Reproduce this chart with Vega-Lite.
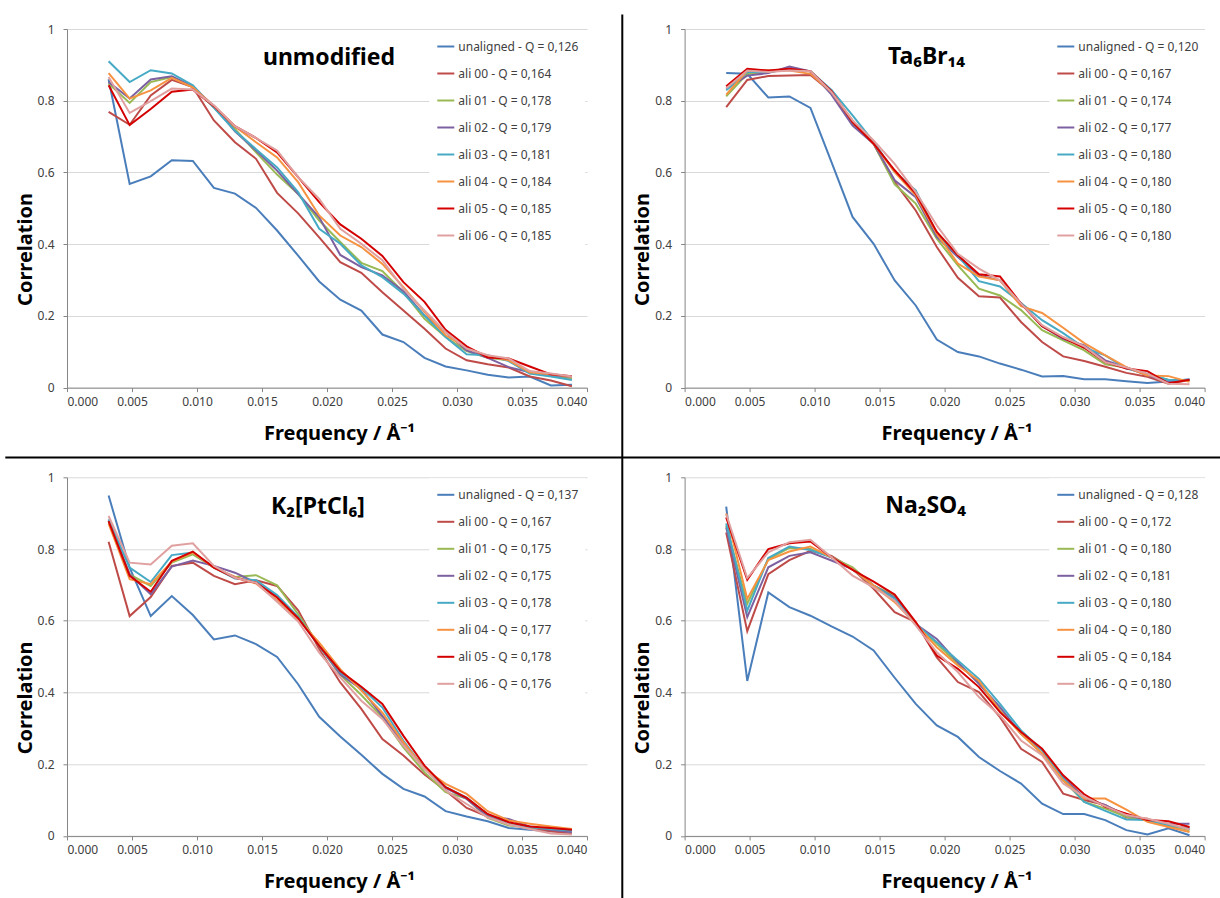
{
"$schema": "https://vega.github.io/schema/vega-lite/v6.json",
"background": "white",
"padding": {"left": 4, "top": 13, "right": 0, "bottom": 0},
"bounds": "flush",
"columns": 2,
"spacing": {"row": 89.3, "column": 97.6},
"resolve": {"scale": {"color": "independent"}, "legend": {"color": "independent"}},
"config": {
  "font": "Noto Sans",
  "view": {"stroke": null},
  "line": {"strokeWidth": 2},
  "axis": {"labelFont": "Noto Sans", "labelFontSize": 12, "labelColor": "#404040", "titleFont": "Noto Sans", "titleFontSize": 20, "titleFontWeight": "bold", "titleColor": "#000000", "domainColor": "#868686", "tickColor": "#868686", "tickSize": 4, "gridColor": "#D9D9D9"},
  "axisX": {"grid": false, "labelPadding": 5, "titleX": 272, "titleY": 46, "titleBaseline": "middle"},
  "axisY": {"labelPadding": 9, "titleX": -41.7, "titleY": 220, "titleBaseline": "middle", "titleAngle": -90},
  "legend": {"orient": "none", "symbolType": "stroke", "symbolSize": 289, "symbolStrokeWidth": 2, "labelFont": "Noto Sans", "labelFontSize": 12, "labelColor": "#404040", "rowPadding": 11, "labelOffset": 3, "padding": 7, "fillColor": "white", "legendY": 1},
  "title": {"font": "Noto Sans", "fontSize": 23, "fontWeight": "bold", "color": "#000000", "frame": "group", "anchor": "middle", "offset": 0, "baseline": "alphabetic"}
},
"datasets": {
"d1": [
{"s":"unaligned - Q = 0,126","f":0.0032,"c":0.86},{"s":"unaligned - Q = 0,126","f":0.00482,"c":0.568},{"s":"unaligned - Q = 0,126","f":0.00644,"c":0.589},{"s":"unaligned - Q = 0,126","f":0.00806,"c":0.634},{"s":"unaligned - Q = 0,126","f":0.00968,"c":0.632},{"s":"unaligned - Q = 0,126","f":0.0113,"c":0.557},{"s":"unaligned - Q = 0,126","f":0.01292,"c":0.541},{"s":"unaligned - Q = 0,126","f":0.01454,"c":0.501},{"s":"unaligned - Q = 0,126","f":0.01616,"c":0.438},{"s":"unaligned - Q = 0,126","f":0.01778,"c":0.368},{"s":"unaligned - Q = 0,126","f":0.0194,"c":0.296},{"s":"unaligned - Q = 0,126","f":0.02102,"c":0.245},{"s":"unaligned - Q = 0,126","f":0.02264,"c":0.215},{"s":"unaligned - Q = 0,126","f":0.02426,"c":0.148},{"s":"unaligned - Q = 0,126","f":0.02588,"c":0.127},{"s":"unaligned - Q = 0,126","f":0.0275,"c":0.083},{"s":"unaligned - Q = 0,126","f":0.02912,"c":0.059},{"s":"unaligned - Q = 0,126","f":0.03074,"c":0.048},{"s":"unaligned - Q = 0,126","f":0.03236,"c":0.036},{"s":"unaligned - Q = 0,126","f":0.03398,"c":0.028},{"s":"unaligned - Q = 0,126","f":0.0356,"c":0.031},{"s":"unaligned - Q = 0,126","f":0.03722,"c":0.006},{"s":"unaligned - Q = 0,126","f":0.03884,"c":0.008},
{"s":"ali 00 - Q = 0,164","f":0.0032,"c":0.769},{"s":"ali 00 - Q = 0,164","f":0.00482,"c":0.733},{"s":"ali 00 - Q = 0,164","f":0.00644,"c":0.815},{"s":"ali 00 - Q = 0,164","f":0.00806,"c":0.858},{"s":"ali 00 - Q = 0,164","f":0.00968,"c":0.838},{"s":"ali 00 - Q = 0,164","f":0.0113,"c":0.745},{"s":"ali 00 - Q = 0,164","f":0.01292,"c":0.684},{"s":"ali 00 - Q = 0,164","f":0.01454,"c":0.638},{"s":"ali 00 - Q = 0,164","f":0.01616,"c":0.543},{"s":"ali 00 - Q = 0,164","f":0.01778,"c":0.486},{"s":"ali 00 - Q = 0,164","f":0.0194,"c":0.419},{"s":"ali 00 - Q = 0,164","f":0.02102,"c":0.35},{"s":"ali 00 - Q = 0,164","f":0.02264,"c":0.32},{"s":"ali 00 - Q = 0,164","f":0.02426,"c":0.266},{"s":"ali 00 - Q = 0,164","f":0.02588,"c":0.215},{"s":"ali 00 - Q = 0,164","f":0.0275,"c":0.164},{"s":"ali 00 - Q = 0,164","f":0.02912,"c":0.109},{"s":"ali 00 - Q = 0,164","f":0.03074,"c":0.076},{"s":"ali 00 - Q = 0,164","f":0.03236,"c":0.065},{"s":"ali 00 - Q = 0,164","f":0.03398,"c":0.056},{"s":"ali 00 - Q = 0,164","f":0.0356,"c":0.031},{"s":"ali 00 - Q = 0,164","f":0.03722,"c":0.02},{"s":"ali 00 - Q = 0,164","f":0.03884,"c":0.004},
{"s":"ali 01 - Q = 0,178","f":0.0032,"c":0.848},{"s":"ali 01 - Q = 0,178","f":0.00482,"c":0.794},{"s":"ali 01 - Q = 0,178","f":0.00644,"c":0.852},{"s":"ali 01 - Q = 0,178","f":0.00806,"c":0.866},{"s":"ali 01 - Q = 0,178","f":0.00968,"c":0.838},{"s":"ali 01 - Q = 0,178","f":0.0113,"c":0.782},{"s":"ali 01 - Q = 0,178","f":0.01292,"c":0.721},{"s":"ali 01 - Q = 0,178","f":0.01454,"c":0.656},{"s":"ali 01 - Q = 0,178","f":0.01616,"c":0.594},{"s":"ali 01 - Q = 0,178","f":0.01778,"c":0.54},{"s":"ali 01 - Q = 0,178","f":0.0194,"c":0.466},{"s":"ali 01 - Q = 0,178","f":0.02102,"c":0.406},{"s":"ali 01 - Q = 0,178","f":0.02264,"c":0.348},{"s":"ali 01 - Q = 0,178","f":0.02426,"c":0.325},{"s":"ali 01 - Q = 0,178","f":0.02588,"c":0.266},{"s":"ali 01 - Q = 0,178","f":0.0275,"c":0.192},{"s":"ali 01 - Q = 0,178","f":0.02912,"c":0.141},{"s":"ali 01 - Q = 0,178","f":0.03074,"c":0.102},{"s":"ali 01 - Q = 0,178","f":0.03236,"c":0.083},{"s":"ali 01 - Q = 0,178","f":0.03398,"c":0.076},{"s":"ali 01 - Q = 0,178","f":0.0356,"c":0.04},{"s":"ali 01 - Q = 0,178","f":0.03722,"c":0.033},{"s":"ali 01 - Q = 0,178","f":0.03884,"c":0.025},
{"s":"ali 02 - Q = 0,179","f":0.0032,"c":0.852},{"s":"ali 02 - Q = 0,179","f":0.00482,"c":0.806},{"s":"ali 02 - Q = 0,179","f":0.00644,"c":0.859},{"s":"ali 02 - Q = 0,179","f":0.00806,"c":0.868},{"s":"ali 02 - Q = 0,179","f":0.00968,"c":0.84},{"s":"ali 02 - Q = 0,179","f":0.0113,"c":0.784},{"s":"ali 02 - Q = 0,179","f":0.01292,"c":0.715},{"s":"ali 02 - Q = 0,179","f":0.01454,"c":0.661},{"s":"ali 02 - Q = 0,179","f":0.01616,"c":0.605},{"s":"ali 02 - Q = 0,179","f":0.01778,"c":0.54},{"s":"ali 02 - Q = 0,179","f":0.0194,"c":0.475},{"s":"ali 02 - Q = 0,179","f":0.02102,"c":0.37},{"s":"ali 02 - Q = 0,179","f":0.02264,"c":0.336},{"s":"ali 02 - Q = 0,179","f":0.02426,"c":0.313},{"s":"ali 02 - Q = 0,179","f":0.02588,"c":0.269},{"s":"ali 02 - Q = 0,179","f":0.0275,"c":0.201},{"s":"ali 02 - Q = 0,179","f":0.02912,"c":0.155},{"s":"ali 02 - Q = 0,179","f":0.03074,"c":0.104},{"s":"ali 02 - Q = 0,179","f":0.03236,"c":0.083},{"s":"ali 02 - Q = 0,179","f":0.03398,"c":0.057},{"s":"ali 02 - Q = 0,179","f":0.0356,"c":0.043},{"s":"ali 02 - Q = 0,179","f":0.03722,"c":0.034},{"s":"ali 02 - Q = 0,179","f":0.03884,"c":0.03},
{"s":"ali 03 - Q = 0,181","f":0.0032,"c":0.91},{"s":"ali 03 - Q = 0,181","f":0.00482,"c":0.852},{"s":"ali 03 - Q = 0,181","f":0.00644,"c":0.885},{"s":"ali 03 - Q = 0,181","f":0.00806,"c":0.876},{"s":"ali 03 - Q = 0,181","f":0.00968,"c":0.843},{"s":"ali 03 - Q = 0,181","f":0.0113,"c":0.78},{"s":"ali 03 - Q = 0,181","f":0.01292,"c":0.716},{"s":"ali 03 - Q = 0,181","f":0.01454,"c":0.665},{"s":"ali 03 - Q = 0,181","f":0.01616,"c":0.614},{"s":"ali 03 - Q = 0,181","f":0.01778,"c":0.545},{"s":"ali 03 - Q = 0,181","f":0.0194,"c":0.443},{"s":"ali 03 - Q = 0,181","f":0.02102,"c":0.401},{"s":"ali 03 - Q = 0,181","f":0.02264,"c":0.341},{"s":"ali 03 - Q = 0,181","f":0.02426,"c":0.308},{"s":"ali 03 - Q = 0,181","f":0.02588,"c":0.262},{"s":"ali 03 - Q = 0,181","f":0.0275,"c":0.201},{"s":"ali 03 - Q = 0,181","f":0.02912,"c":0.141},{"s":"ali 03 - Q = 0,181","f":0.03074,"c":0.093},{"s":"ali 03 - Q = 0,181","f":0.03236,"c":0.09},{"s":"ali 03 - Q = 0,181","f":0.03398,"c":0.074},{"s":"ali 03 - Q = 0,181","f":0.0356,"c":0.039},{"s":"ali 03 - Q = 0,181","f":0.03722,"c":0.031},{"s":"ali 03 - Q = 0,181","f":0.03884,"c":0.021},
{"s":"ali 04 - Q = 0,184","f":0.0032,"c":0.877},{"s":"ali 04 - Q = 0,184","f":0.00482,"c":0.806},{"s":"ali 04 - Q = 0,184","f":0.00644,"c":0.829},{"s":"ali 04 - Q = 0,184","f":0.00806,"c":0.864},{"s":"ali 04 - Q = 0,184","f":0.00968,"c":0.837},{"s":"ali 04 - Q = 0,184","f":0.0113,"c":0.785},{"s":"ali 04 - Q = 0,184","f":0.01292,"c":0.728},{"s":"ali 04 - Q = 0,184","f":0.01454,"c":0.684},{"s":"ali 04 - Q = 0,184","f":0.01616,"c":0.642},{"s":"ali 04 - Q = 0,184","f":0.01778,"c":0.573},{"s":"ali 04 - Q = 0,184","f":0.0194,"c":0.48},{"s":"ali 04 - Q = 0,184","f":0.02102,"c":0.424},{"s":"ali 04 - Q = 0,184","f":0.02264,"c":0.392},{"s":"ali 04 - Q = 0,184","f":0.02426,"c":0.345},{"s":"ali 04 - Q = 0,184","f":0.02588,"c":0.28},{"s":"ali 04 - Q = 0,184","f":0.0275,"c":0.211},{"s":"ali 04 - Q = 0,184","f":0.02912,"c":0.146},{"s":"ali 04 - Q = 0,184","f":0.03074,"c":0.112},{"s":"ali 04 - Q = 0,184","f":0.03236,"c":0.087},{"s":"ali 04 - Q = 0,184","f":0.03398,"c":0.076},{"s":"ali 04 - Q = 0,184","f":0.0356,"c":0.043},{"s":"ali 04 - Q = 0,184","f":0.03722,"c":0.037},{"s":"ali 04 - Q = 0,184","f":0.03884,"c":0.03},
{"s":"ali 05 - Q = 0,185","f":0.0032,"c":0.843},{"s":"ali 05 - Q = 0,185","f":0.00482,"c":0.732},{"s":"ali 05 - Q = 0,185","f":0.00644,"c":0.777},{"s":"ali 05 - Q = 0,185","f":0.00806,"c":0.825},{"s":"ali 05 - Q = 0,185","f":0.00968,"c":0.831},{"s":"ali 05 - Q = 0,185","f":0.0113,"c":0.785},{"s":"ali 05 - Q = 0,185","f":0.01292,"c":0.729},{"s":"ali 05 - Q = 0,185","f":0.01454,"c":0.696},{"s":"ali 05 - Q = 0,185","f":0.01616,"c":0.656},{"s":"ali 05 - Q = 0,185","f":0.01778,"c":0.587},{"s":"ali 05 - Q = 0,185","f":0.0194,"c":0.517},{"s":"ali 05 - Q = 0,185","f":0.02102,"c":0.455},{"s":"ali 05 - Q = 0,185","f":0.02264,"c":0.415},{"s":"ali 05 - Q = 0,185","f":0.02426,"c":0.367},{"s":"ali 05 - Q = 0,185","f":0.02588,"c":0.294},{"s":"ali 05 - Q = 0,185","f":0.0275,"c":0.239},{"s":"ali 05 - Q = 0,185","f":0.02912,"c":0.161},{"s":"ali 05 - Q = 0,185","f":0.03074,"c":0.115},{"s":"ali 05 - Q = 0,185","f":0.03236,"c":0.084},{"s":"ali 05 - Q = 0,185","f":0.03398,"c":0.081},{"s":"ali 05 - Q = 0,185","f":0.0356,"c":0.059},{"s":"ali 05 - Q = 0,185","f":0.03722,"c":0.037},{"s":"ali 05 - Q = 0,185","f":0.03884,"c":0.032},
{"s":"ali 06 - Q = 0,185","f":0.0032,"c":0.866},{"s":"ali 06 - Q = 0,185","f":0.00482,"c":0.766},{"s":"ali 06 - Q = 0,185","f":0.00644,"c":0.799},{"s":"ali 06 - Q = 0,185","f":0.00806,"c":0.834},{"s":"ali 06 - Q = 0,185","f":0.00968,"c":0.831},{"s":"ali 06 - Q = 0,185","f":0.0113,"c":0.787},{"s":"ali 06 - Q = 0,185","f":0.01292,"c":0.729},{"s":"ali 06 - Q = 0,185","f":0.01454,"c":0.696},{"s":"ali 06 - Q = 0,185","f":0.01616,"c":0.661},{"s":"ali 06 - Q = 0,185","f":0.01778,"c":0.587},{"s":"ali 06 - Q = 0,185","f":0.0194,"c":0.526},{"s":"ali 06 - Q = 0,185","f":0.02102,"c":0.443},{"s":"ali 06 - Q = 0,185","f":0.02264,"c":0.401},{"s":"ali 06 - Q = 0,185","f":0.02426,"c":0.355},{"s":"ali 06 - Q = 0,185","f":0.02588,"c":0.276},{"s":"ali 06 - Q = 0,185","f":0.0275,"c":0.215},{"s":"ali 06 - Q = 0,185","f":0.02912,"c":0.155},{"s":"ali 06 - Q = 0,185","f":0.03074,"c":0.109},{"s":"ali 06 - Q = 0,185","f":0.03236,"c":0.09},{"s":"ali 06 - Q = 0,185","f":0.03398,"c":0.081},{"s":"ali 06 - Q = 0,185","f":0.0356,"c":0.046},{"s":"ali 06 - Q = 0,185","f":0.03722,"c":0.039},{"s":"ali 06 - Q = 0,185","f":0.03884,"c":0.031}
],
"d2": [
{"s":"unaligned - Q = 0,120","f":0.0032,"c":0.877},{"s":"unaligned - Q = 0,120","f":0.00482,"c":0.875},{"s":"unaligned - Q = 0,120","f":0.00644,"c":0.809},{"s":"unaligned - Q = 0,120","f":0.00806,"c":0.812},{"s":"unaligned - Q = 0,120","f":0.00968,"c":0.78},{"s":"unaligned - Q = 0,120","f":0.0113,"c":0.629},{"s":"unaligned - Q = 0,120","f":0.01292,"c":0.476},{"s":"unaligned - Q = 0,120","f":0.01454,"c":0.401},{"s":"unaligned - Q = 0,120","f":0.01616,"c":0.299},{"s":"unaligned - Q = 0,120","f":0.01778,"c":0.229},{"s":"unaligned - Q = 0,120","f":0.0194,"c":0.134},{"s":"unaligned - Q = 0,120","f":0.02102,"c":0.099},{"s":"unaligned - Q = 0,120","f":0.02264,"c":0.087},{"s":"unaligned - Q = 0,120","f":0.02426,"c":0.067},{"s":"unaligned - Q = 0,120","f":0.02588,"c":0.05},{"s":"unaligned - Q = 0,120","f":0.0275,"c":0.031},{"s":"unaligned - Q = 0,120","f":0.02912,"c":0.032},{"s":"unaligned - Q = 0,120","f":0.03074,"c":0.023},{"s":"unaligned - Q = 0,120","f":0.03236,"c":0.023},{"s":"unaligned - Q = 0,120","f":0.03398,"c":0.018},{"s":"unaligned - Q = 0,120","f":0.0356,"c":0.013},{"s":"unaligned - Q = 0,120","f":0.03722,"c":0.017},{"s":"unaligned - Q = 0,120","f":0.03884,"c":0.023},
{"s":"ali 00 - Q = 0,167","f":0.0032,"c":0.782},{"s":"ali 00 - Q = 0,167","f":0.00482,"c":0.858},{"s":"ali 00 - Q = 0,167","f":0.00644,"c":0.869},{"s":"ali 00 - Q = 0,167","f":0.00806,"c":0.87},{"s":"ali 00 - Q = 0,167","f":0.00968,"c":0.872},{"s":"ali 00 - Q = 0,167","f":0.0113,"c":0.824},{"s":"ali 00 - Q = 0,167","f":0.01292,"c":0.736},{"s":"ali 00 - Q = 0,167","f":0.01454,"c":0.68},{"s":"ali 00 - Q = 0,167","f":0.01616,"c":0.573},{"s":"ali 00 - Q = 0,167","f":0.01778,"c":0.494},{"s":"ali 00 - Q = 0,167","f":0.0194,"c":0.392},{"s":"ali 00 - Q = 0,167","f":0.02102,"c":0.306},{"s":"ali 00 - Q = 0,167","f":0.02264,"c":0.255},{"s":"ali 00 - Q = 0,167","f":0.02426,"c":0.251},{"s":"ali 00 - Q = 0,167","f":0.02588,"c":0.183},{"s":"ali 00 - Q = 0,167","f":0.0275,"c":0.127},{"s":"ali 00 - Q = 0,167","f":0.02912,"c":0.087},{"s":"ali 00 - Q = 0,167","f":0.03074,"c":0.074},{"s":"ali 00 - Q = 0,167","f":0.03236,"c":0.058},{"s":"ali 00 - Q = 0,167","f":0.03398,"c":0.041},{"s":"ali 00 - Q = 0,167","f":0.0356,"c":0.03},{"s":"ali 00 - Q = 0,167","f":0.03722,"c":0.011},{"s":"ali 00 - Q = 0,167","f":0.03884,"c":0.021},
{"s":"ali 01 - Q = 0,174","f":0.0032,"c":0.812},{"s":"ali 01 - Q = 0,174","f":0.00482,"c":0.875},{"s":"ali 01 - Q = 0,174","f":0.00644,"c":0.88},{"s":"ali 01 - Q = 0,174","f":0.00806,"c":0.886},{"s":"ali 01 - Q = 0,174","f":0.00968,"c":0.882},{"s":"ali 01 - Q = 0,174","f":0.0113,"c":0.824},{"s":"ali 01 - Q = 0,174","f":0.01292,"c":0.74},{"s":"ali 01 - Q = 0,174","f":0.01454,"c":0.68},{"s":"ali 01 - Q = 0,174","f":0.01616,"c":0.567},{"s":"ali 01 - Q = 0,174","f":0.01778,"c":0.513},{"s":"ali 01 - Q = 0,174","f":0.0194,"c":0.415},{"s":"ali 01 - Q = 0,174","f":0.02102,"c":0.341},{"s":"ali 01 - Q = 0,174","f":0.02264,"c":0.276},{"s":"ali 01 - Q = 0,174","f":0.02426,"c":0.257},{"s":"ali 01 - Q = 0,174","f":0.02588,"c":0.216},{"s":"ali 01 - Q = 0,174","f":0.0275,"c":0.16},{"s":"ali 01 - Q = 0,174","f":0.02912,"c":0.132},{"s":"ali 01 - Q = 0,174","f":0.03074,"c":0.104},{"s":"ali 01 - Q = 0,174","f":0.03236,"c":0.065},{"s":"ali 01 - Q = 0,174","f":0.03398,"c":0.056},{"s":"ali 01 - Q = 0,174","f":0.0356,"c":0.036},{"s":"ali 01 - Q = 0,174","f":0.03722,"c":0.022},{"s":"ali 01 - Q = 0,174","f":0.03884,"c":0.021},
{"s":"ali 02 - Q = 0,177","f":0.0032,"c":0.833},{"s":"ali 02 - Q = 0,177","f":0.00482,"c":0.87},{"s":"ali 02 - Q = 0,177","f":0.00644,"c":0.877},{"s":"ali 02 - Q = 0,177","f":0.00806,"c":0.895},{"s":"ali 02 - Q = 0,177","f":0.00968,"c":0.882},{"s":"ali 02 - Q = 0,177","f":0.0113,"c":0.817},{"s":"ali 02 - Q = 0,177","f":0.01292,"c":0.731},{"s":"ali 02 - Q = 0,177","f":0.01454,"c":0.68},{"s":"ali 02 - Q = 0,177","f":0.01616,"c":0.578},{"s":"ali 02 - Q = 0,177","f":0.01778,"c":0.531},{"s":"ali 02 - Q = 0,177","f":0.0194,"c":0.42},{"s":"ali 02 - Q = 0,177","f":0.02102,"c":0.364},{"s":"ali 02 - Q = 0,177","f":0.02264,"c":0.313},{"s":"ali 02 - Q = 0,177","f":0.02426,"c":0.299},{"s":"ali 02 - Q = 0,177","f":0.02588,"c":0.234},{"s":"ali 02 - Q = 0,177","f":0.0275,"c":0.171},{"s":"ali 02 - Q = 0,177","f":0.02912,"c":0.136},{"s":"ali 02 - Q = 0,177","f":0.03074,"c":0.118},{"s":"ali 02 - Q = 0,177","f":0.03236,"c":0.076},{"s":"ali 02 - Q = 0,177","f":0.03398,"c":0.056},{"s":"ali 02 - Q = 0,177","f":0.0356,"c":0.034},{"s":"ali 02 - Q = 0,177","f":0.03722,"c":0.016},{"s":"ali 02 - Q = 0,177","f":0.03884,"c":0.021},
{"s":"ali 03 - Q = 0,180","f":0.0032,"c":0.829},{"s":"ali 03 - Q = 0,180","f":0.00482,"c":0.88},{"s":"ali 03 - Q = 0,180","f":0.00644,"c":0.88},{"s":"ali 03 - Q = 0,180","f":0.00806,"c":0.887},{"s":"ali 03 - Q = 0,180","f":0.00968,"c":0.882},{"s":"ali 03 - Q = 0,180","f":0.0113,"c":0.83},{"s":"ali 03 - Q = 0,180","f":0.01292,"c":0.759},{"s":"ali 03 - Q = 0,180","f":0.01454,"c":0.685},{"s":"ali 03 - Q = 0,180","f":0.01616,"c":0.601},{"s":"ali 03 - Q = 0,180","f":0.01778,"c":0.55},{"s":"ali 03 - Q = 0,180","f":0.0194,"c":0.429},{"s":"ali 03 - Q = 0,180","f":0.02102,"c":0.369},{"s":"ali 03 - Q = 0,180","f":0.02264,"c":0.297},{"s":"ali 03 - Q = 0,180","f":0.02426,"c":0.282},{"s":"ali 03 - Q = 0,180","f":0.02588,"c":0.236},{"s":"ali 03 - Q = 0,180","f":0.0275,"c":0.188},{"s":"ali 03 - Q = 0,180","f":0.02912,"c":0.152},{"s":"ali 03 - Q = 0,180","f":0.03074,"c":0.111},{"s":"ali 03 - Q = 0,180","f":0.03236,"c":0.09},{"s":"ali 03 - Q = 0,180","f":0.03398,"c":0.053},{"s":"ali 03 - Q = 0,180","f":0.0356,"c":0.039},{"s":"ali 03 - Q = 0,180","f":0.03722,"c":0.021},{"s":"ali 03 - Q = 0,180","f":0.03884,"c":0.021},
{"s":"ali 04 - Q = 0,180","f":0.0032,"c":0.817},{"s":"ali 04 - Q = 0,180","f":0.00482,"c":0.884},{"s":"ali 04 - Q = 0,180","f":0.00644,"c":0.884},{"s":"ali 04 - Q = 0,180","f":0.00806,"c":0.884},{"s":"ali 04 - Q = 0,180","f":0.00968,"c":0.875},{"s":"ali 04 - Q = 0,180","f":0.0113,"c":0.824},{"s":"ali 04 - Q = 0,180","f":0.01292,"c":0.745},{"s":"ali 04 - Q = 0,180","f":0.01454,"c":0.68},{"s":"ali 04 - Q = 0,180","f":0.01616,"c":0.601},{"s":"ali 04 - Q = 0,180","f":0.01778,"c":0.536},{"s":"ali 04 - Q = 0,180","f":0.0194,"c":0.429},{"s":"ali 04 - Q = 0,180","f":0.02102,"c":0.346},{"s":"ali 04 - Q = 0,180","f":0.02264,"c":0.31},{"s":"ali 04 - Q = 0,180","f":0.02426,"c":0.299},{"s":"ali 04 - Q = 0,180","f":0.02588,"c":0.227},{"s":"ali 04 - Q = 0,180","f":0.0275,"c":0.208},{"s":"ali 04 - Q = 0,180","f":0.02912,"c":0.167},{"s":"ali 04 - Q = 0,180","f":0.03074,"c":0.124},{"s":"ali 04 - Q = 0,180","f":0.03236,"c":0.09},{"s":"ali 04 - Q = 0,180","f":0.03398,"c":0.057},{"s":"ali 04 - Q = 0,180","f":0.0356,"c":0.034},{"s":"ali 04 - Q = 0,180","f":0.03722,"c":0.032},{"s":"ali 04 - Q = 0,180","f":0.03884,"c":0.016},
{"s":"ali 05 - Q = 0,180","f":0.0032,"c":0.84},{"s":"ali 05 - Q = 0,180","f":0.00482,"c":0.889},{"s":"ali 05 - Q = 0,180","f":0.00644,"c":0.884},{"s":"ali 05 - Q = 0,180","f":0.00806,"c":0.889},{"s":"ali 05 - Q = 0,180","f":0.00968,"c":0.882},{"s":"ali 05 - Q = 0,180","f":0.0113,"c":0.827},{"s":"ali 05 - Q = 0,180","f":0.01292,"c":0.74},{"s":"ali 05 - Q = 0,180","f":0.01454,"c":0.68},{"s":"ali 05 - Q = 0,180","f":0.01616,"c":0.606},{"s":"ali 05 - Q = 0,180","f":0.01778,"c":0.541},{"s":"ali 05 - Q = 0,180","f":0.0194,"c":0.434},{"s":"ali 05 - Q = 0,180","f":0.02102,"c":0.369},{"s":"ali 05 - Q = 0,180","f":0.02264,"c":0.316},{"s":"ali 05 - Q = 0,180","f":0.02426,"c":0.31},{"s":"ali 05 - Q = 0,180","f":0.02588,"c":0.234},{"s":"ali 05 - Q = 0,180","f":0.0275,"c":0.171},{"s":"ali 05 - Q = 0,180","f":0.02912,"c":0.139},{"s":"ali 05 - Q = 0,180","f":0.03074,"c":0.111},{"s":"ali 05 - Q = 0,180","f":0.03236,"c":0.071},{"s":"ali 05 - Q = 0,180","f":0.03398,"c":0.053},{"s":"ali 05 - Q = 0,180","f":0.0356,"c":0.046},{"s":"ali 05 - Q = 0,180","f":0.03722,"c":0.012},{"s":"ali 05 - Q = 0,180","f":0.03884,"c":0.022},
{"s":"ali 06 - Q = 0,180","f":0.0032,"c":0.835},{"s":"ali 06 - Q = 0,180","f":0.00482,"c":0.884},{"s":"ali 06 - Q = 0,180","f":0.00644,"c":0.88},{"s":"ali 06 - Q = 0,180","f":0.00806,"c":0.884},{"s":"ali 06 - Q = 0,180","f":0.00968,"c":0.882},{"s":"ali 06 - Q = 0,180","f":0.0113,"c":0.824},{"s":"ali 06 - Q = 0,180","f":0.01292,"c":0.745},{"s":"ali 06 - Q = 0,180","f":0.01454,"c":0.689},{"s":"ali 06 - Q = 0,180","f":0.01616,"c":0.624},{"s":"ali 06 - Q = 0,180","f":0.01778,"c":0.545},{"s":"ali 06 - Q = 0,180","f":0.0194,"c":0.452},{"s":"ali 06 - Q = 0,180","f":0.02102,"c":0.373},{"s":"ali 06 - Q = 0,180","f":0.02264,"c":0.332},{"s":"ali 06 - Q = 0,180","f":0.02426,"c":0.299},{"s":"ali 06 - Q = 0,180","f":0.02588,"c":0.234},{"s":"ali 06 - Q = 0,180","f":0.0275,"c":0.174},{"s":"ali 06 - Q = 0,180","f":0.02912,"c":0.141},{"s":"ali 06 - Q = 0,180","f":0.03074,"c":0.115},{"s":"ali 06 - Q = 0,180","f":0.03236,"c":0.071},{"s":"ali 06 - Q = 0,180","f":0.03398,"c":0.056},{"s":"ali 06 - Q = 0,180","f":0.0356,"c":0.039},{"s":"ali 06 - Q = 0,180","f":0.03722,"c":0.011},{"s":"ali 06 - Q = 0,180","f":0.03884,"c":0.009}
],
"d3": [
{"s":"unaligned - Q = 0,137","f":0.0032,"c":0.949},{"s":"unaligned - Q = 0,137","f":0.00482,"c":0.748},{"s":"unaligned - Q = 0,137","f":0.00644,"c":0.613},{"s":"unaligned - Q = 0,137","f":0.00806,"c":0.669},{"s":"unaligned - Q = 0,137","f":0.00968,"c":0.616},{"s":"unaligned - Q = 0,137","f":0.0113,"c":0.548},{"s":"unaligned - Q = 0,137","f":0.01292,"c":0.559},{"s":"unaligned - Q = 0,137","f":0.01454,"c":0.535},{"s":"unaligned - Q = 0,137","f":0.01616,"c":0.499},{"s":"unaligned - Q = 0,137","f":0.01778,"c":0.423},{"s":"unaligned - Q = 0,137","f":0.0194,"c":0.332},{"s":"unaligned - Q = 0,137","f":0.02102,"c":0.277},{"s":"unaligned - Q = 0,137","f":0.02264,"c":0.226},{"s":"unaligned - Q = 0,137","f":0.02426,"c":0.173},{"s":"unaligned - Q = 0,137","f":0.02588,"c":0.131},{"s":"unaligned - Q = 0,137","f":0.0275,"c":0.11},{"s":"unaligned - Q = 0,137","f":0.02912,"c":0.069},{"s":"unaligned - Q = 0,137","f":0.03074,"c":0.054},{"s":"unaligned - Q = 0,137","f":0.03236,"c":0.041},{"s":"unaligned - Q = 0,137","f":0.03398,"c":0.022},{"s":"unaligned - Q = 0,137","f":0.0356,"c":0.017},{"s":"unaligned - Q = 0,137","f":0.03722,"c":0.013},{"s":"unaligned - Q = 0,137","f":0.03884,"c":0.015},
{"s":"ali 00 - Q = 0,167","f":0.0032,"c":0.82},{"s":"ali 00 - Q = 0,167","f":0.00482,"c":0.613},{"s":"ali 00 - Q = 0,167","f":0.00644,"c":0.666},{"s":"ali 00 - Q = 0,167","f":0.00806,"c":0.753},{"s":"ali 00 - Q = 0,167","f":0.00968,"c":0.762},{"s":"ali 00 - Q = 0,167","f":0.0113,"c":0.725},{"s":"ali 00 - Q = 0,167","f":0.01292,"c":0.702},{"s":"ali 00 - Q = 0,167","f":0.01454,"c":0.713},{"s":"ali 00 - Q = 0,167","f":0.01616,"c":0.697},{"s":"ali 00 - Q = 0,167","f":0.01778,"c":0.629},{"s":"ali 00 - Q = 0,167","f":0.0194,"c":0.521},{"s":"ali 00 - Q = 0,167","f":0.02102,"c":0.428},{"s":"ali 00 - Q = 0,167","f":0.02264,"c":0.354},{"s":"ali 00 - Q = 0,167","f":0.02426,"c":0.27},{"s":"ali 00 - Q = 0,167","f":0.02588,"c":0.224},{"s":"ali 00 - Q = 0,167","f":0.0275,"c":0.171},{"s":"ali 00 - Q = 0,167","f":0.02912,"c":0.127},{"s":"ali 00 - Q = 0,167","f":0.03074,"c":0.078},{"s":"ali 00 - Q = 0,167","f":0.03236,"c":0.054},{"s":"ali 00 - Q = 0,167","f":0.03398,"c":0.036},{"s":"ali 00 - Q = 0,167","f":0.0356,"c":0.022},{"s":"ali 00 - Q = 0,167","f":0.03722,"c":0.013},{"s":"ali 00 - Q = 0,167","f":0.03884,"c":0.006},
{"s":"ali 01 - Q = 0,175","f":0.0032,"c":0.878},{"s":"ali 01 - Q = 0,175","f":0.00482,"c":0.729},{"s":"ali 01 - Q = 0,175","f":0.00644,"c":0.697},{"s":"ali 01 - Q = 0,175","f":0.00806,"c":0.762},{"s":"ali 01 - Q = 0,175","f":0.00968,"c":0.785},{"s":"ali 01 - Q = 0,175","f":0.0113,"c":0.748},{"s":"ali 01 - Q = 0,175","f":0.01292,"c":0.722},{"s":"ali 01 - Q = 0,175","f":0.01454,"c":0.727},{"s":"ali 01 - Q = 0,175","f":0.01616,"c":0.699},{"s":"ali 01 - Q = 0,175","f":0.01778,"c":0.618},{"s":"ali 01 - Q = 0,175","f":0.0194,"c":0.53},{"s":"ali 01 - Q = 0,175","f":0.02102,"c":0.449},{"s":"ali 01 - Q = 0,175","f":0.02264,"c":0.393},{"s":"ali 01 - Q = 0,175","f":0.02426,"c":0.33},{"s":"ali 01 - Q = 0,175","f":0.02588,"c":0.247},{"s":"ali 01 - Q = 0,175","f":0.0275,"c":0.177},{"s":"ali 01 - Q = 0,175","f":0.02912,"c":0.122},{"s":"ali 01 - Q = 0,175","f":0.03074,"c":0.104},{"s":"ali 01 - Q = 0,175","f":0.03236,"c":0.05},{"s":"ali 01 - Q = 0,175","f":0.03398,"c":0.029},{"s":"ali 01 - Q = 0,175","f":0.0356,"c":0.024},{"s":"ali 01 - Q = 0,175","f":0.03722,"c":0.019},{"s":"ali 01 - Q = 0,175","f":0.03884,"c":0.015},
{"s":"ali 02 - Q = 0,175","f":0.0032,"c":0.88},{"s":"ali 02 - Q = 0,175","f":0.00482,"c":0.729},{"s":"ali 02 - Q = 0,175","f":0.00644,"c":0.674},{"s":"ali 02 - Q = 0,175","f":0.00806,"c":0.751},{"s":"ali 02 - Q = 0,175","f":0.00968,"c":0.768},{"s":"ali 02 - Q = 0,175","f":0.0113,"c":0.753},{"s":"ali 02 - Q = 0,175","f":0.01292,"c":0.734},{"s":"ali 02 - Q = 0,175","f":0.01454,"c":0.706},{"s":"ali 02 - Q = 0,175","f":0.01616,"c":0.669},{"s":"ali 02 - Q = 0,175","f":0.01778,"c":0.607},{"s":"ali 02 - Q = 0,175","f":0.0194,"c":0.53},{"s":"ali 02 - Q = 0,175","f":0.02102,"c":0.451},{"s":"ali 02 - Q = 0,175","f":0.02264,"c":0.409},{"s":"ali 02 - Q = 0,175","f":0.02426,"c":0.335},{"s":"ali 02 - Q = 0,175","f":0.02588,"c":0.256},{"s":"ali 02 - Q = 0,175","f":0.0275,"c":0.187},{"s":"ali 02 - Q = 0,175","f":0.02912,"c":0.134},{"s":"ali 02 - Q = 0,175","f":0.03074,"c":0.103},{"s":"ali 02 - Q = 0,175","f":0.03236,"c":0.054},{"s":"ali 02 - Q = 0,175","f":0.03398,"c":0.047},{"s":"ali 02 - Q = 0,175","f":0.0356,"c":0.026},{"s":"ali 02 - Q = 0,175","f":0.03722,"c":0.017},{"s":"ali 02 - Q = 0,175","f":0.03884,"c":0.01},
{"s":"ali 03 - Q = 0,178","f":0.0032,"c":0.883},{"s":"ali 03 - Q = 0,178","f":0.00482,"c":0.748},{"s":"ali 03 - Q = 0,178","f":0.00644,"c":0.708},{"s":"ali 03 - Q = 0,178","f":0.00806,"c":0.783},{"s":"ali 03 - Q = 0,178","f":0.00968,"c":0.79},{"s":"ali 03 - Q = 0,178","f":0.0113,"c":0.748},{"s":"ali 03 - Q = 0,178","f":0.01292,"c":0.718},{"s":"ali 03 - Q = 0,178","f":0.01454,"c":0.713},{"s":"ali 03 - Q = 0,178","f":0.01616,"c":0.672},{"s":"ali 03 - Q = 0,178","f":0.01778,"c":0.611},{"s":"ali 03 - Q = 0,178","f":0.0194,"c":0.53},{"s":"ali 03 - Q = 0,178","f":0.02102,"c":0.456},{"s":"ali 03 - Q = 0,178","f":0.02264,"c":0.414},{"s":"ali 03 - Q = 0,178","f":0.02426,"c":0.358},{"s":"ali 03 - Q = 0,178","f":0.02588,"c":0.265},{"s":"ali 03 - Q = 0,178","f":0.0275,"c":0.187},{"s":"ali 03 - Q = 0,178","f":0.02912,"c":0.136},{"s":"ali 03 - Q = 0,178","f":0.03074,"c":0.107},{"s":"ali 03 - Q = 0,178","f":0.03236,"c":0.059},{"s":"ali 03 - Q = 0,178","f":0.03398,"c":0.036},{"s":"ali 03 - Q = 0,178","f":0.0356,"c":0.024},{"s":"ali 03 - Q = 0,178","f":0.03722,"c":0.019},{"s":"ali 03 - Q = 0,178","f":0.03884,"c":0.015},
{"s":"ali 04 - Q = 0,177","f":0.0032,"c":0.871},{"s":"ali 04 - Q = 0,177","f":0.00482,"c":0.716},{"s":"ali 04 - Q = 0,177","f":0.00644,"c":0.702},{"s":"ali 04 - Q = 0,177","f":0.00806,"c":0.765},{"s":"ali 04 - Q = 0,177","f":0.00968,"c":0.79},{"s":"ali 04 - Q = 0,177","f":0.0113,"c":0.748},{"s":"ali 04 - Q = 0,177","f":0.01292,"c":0.722},{"s":"ali 04 - Q = 0,177","f":0.01454,"c":0.704},{"s":"ali 04 - Q = 0,177","f":0.01616,"c":0.657},{"s":"ali 04 - Q = 0,177","f":0.01778,"c":0.604},{"s":"ali 04 - Q = 0,177","f":0.0194,"c":0.539},{"s":"ali 04 - Q = 0,177","f":0.02102,"c":0.465},{"s":"ali 04 - Q = 0,177","f":0.02264,"c":0.405},{"s":"ali 04 - Q = 0,177","f":0.02426,"c":0.344},{"s":"ali 04 - Q = 0,177","f":0.02588,"c":0.261},{"s":"ali 04 - Q = 0,177","f":0.0275,"c":0.187},{"s":"ali 04 - Q = 0,177","f":0.02912,"c":0.145},{"s":"ali 04 - Q = 0,177","f":0.03074,"c":0.117},{"s":"ali 04 - Q = 0,177","f":0.03236,"c":0.069},{"s":"ali 04 - Q = 0,177","f":0.03398,"c":0.043},{"s":"ali 04 - Q = 0,177","f":0.0356,"c":0.034},{"s":"ali 04 - Q = 0,177","f":0.03722,"c":0.026},{"s":"ali 04 - Q = 0,177","f":0.03884,"c":0.019},
{"s":"ali 05 - Q = 0,178","f":0.0032,"c":0.878},{"s":"ali 05 - Q = 0,178","f":0.00482,"c":0.725},{"s":"ali 05 - Q = 0,178","f":0.00644,"c":0.681},{"s":"ali 05 - Q = 0,178","f":0.00806,"c":0.767},{"s":"ali 05 - Q = 0,178","f":0.00968,"c":0.793},{"s":"ali 05 - Q = 0,178","f":0.0113,"c":0.748},{"s":"ali 05 - Q = 0,178","f":0.01292,"c":0.72},{"s":"ali 05 - Q = 0,178","f":0.01454,"c":0.706},{"s":"ali 05 - Q = 0,178","f":0.01616,"c":0.665},{"s":"ali 05 - Q = 0,178","f":0.01778,"c":0.607},{"s":"ali 05 - Q = 0,178","f":0.0194,"c":0.53},{"s":"ali 05 - Q = 0,178","f":0.02102,"c":0.46},{"s":"ali 05 - Q = 0,178","f":0.02264,"c":0.416},{"s":"ali 05 - Q = 0,178","f":0.02426,"c":0.368},{"s":"ali 05 - Q = 0,178","f":0.02588,"c":0.279},{"s":"ali 05 - Q = 0,178","f":0.0275,"c":0.196},{"s":"ali 05 - Q = 0,178","f":0.02912,"c":0.136},{"s":"ali 05 - Q = 0,178","f":0.03074,"c":0.106},{"s":"ali 05 - Q = 0,178","f":0.03236,"c":0.061},{"s":"ali 05 - Q = 0,178","f":0.03398,"c":0.038},{"s":"ali 05 - Q = 0,178","f":0.0356,"c":0.026},{"s":"ali 05 - Q = 0,178","f":0.03722,"c":0.022},{"s":"ali 05 - Q = 0,178","f":0.03884,"c":0.017},
{"s":"ali 06 - Q = 0,176","f":0.0032,"c":0.892},{"s":"ali 06 - Q = 0,176","f":0.00482,"c":0.762},{"s":"ali 06 - Q = 0,176","f":0.00644,"c":0.757},{"s":"ali 06 - Q = 0,176","f":0.00806,"c":0.809},{"s":"ali 06 - Q = 0,176","f":0.00968,"c":0.816},{"s":"ali 06 - Q = 0,176","f":0.0113,"c":0.753},{"s":"ali 06 - Q = 0,176","f":0.01292,"c":0.72},{"s":"ali 06 - Q = 0,176","f":0.01454,"c":0.706},{"s":"ali 06 - Q = 0,176","f":0.01616,"c":0.653},{"s":"ali 06 - Q = 0,176","f":0.01778,"c":0.598},{"s":"ali 06 - Q = 0,176","f":0.0194,"c":0.511},{"s":"ali 06 - Q = 0,176","f":0.02102,"c":0.442},{"s":"ali 06 - Q = 0,176","f":0.02264,"c":0.377},{"s":"ali 06 - Q = 0,176","f":0.02426,"c":0.326},{"s":"ali 06 - Q = 0,176","f":0.02588,"c":0.252},{"s":"ali 06 - Q = 0,176","f":0.0275,"c":0.187},{"s":"ali 06 - Q = 0,176","f":0.02912,"c":0.127},{"s":"ali 06 - Q = 0,176","f":0.03074,"c":0.089},{"s":"ali 06 - Q = 0,176","f":0.03236,"c":0.052},{"s":"ali 06 - Q = 0,176","f":0.03398,"c":0.032},{"s":"ali 06 - Q = 0,176","f":0.0356,"c":0.019},{"s":"ali 06 - Q = 0,176","f":0.03722,"c":0.007},{"s":"ali 06 - Q = 0,176","f":0.03884,"c":0.004}
],
"d4": [
{"s":"unaligned - Q = 0,128","f":0.0032,"c":0.918},{"s":"unaligned - Q = 0,128","f":0.00482,"c":0.432},{"s":"unaligned - Q = 0,128","f":0.00644,"c":0.679},{"s":"unaligned - Q = 0,128","f":0.00806,"c":0.638},{"s":"unaligned - Q = 0,128","f":0.00968,"c":0.614},{"s":"unaligned - Q = 0,128","f":0.0113,"c":0.584},{"s":"unaligned - Q = 0,128","f":0.01292,"c":0.556},{"s":"unaligned - Q = 0,128","f":0.01454,"c":0.517},{"s":"unaligned - Q = 0,128","f":0.01616,"c":0.441},{"s":"unaligned - Q = 0,128","f":0.01778,"c":0.368},{"s":"unaligned - Q = 0,128","f":0.0194,"c":0.308},{"s":"unaligned - Q = 0,128","f":0.02102,"c":0.276},{"s":"unaligned - Q = 0,128","f":0.02264,"c":0.22},{"s":"unaligned - Q = 0,128","f":0.02426,"c":0.181},{"s":"unaligned - Q = 0,128","f":0.02588,"c":0.146},{"s":"unaligned - Q = 0,128","f":0.0275,"c":0.09},{"s":"unaligned - Q = 0,128","f":0.02912,"c":0.061},{"s":"unaligned - Q = 0,128","f":0.03074,"c":0.061},{"s":"unaligned - Q = 0,128","f":0.03236,"c":0.044},{"s":"unaligned - Q = 0,128","f":0.03398,"c":0.016},{"s":"unaligned - Q = 0,128","f":0.0356,"c":0.004},{"s":"unaligned - Q = 0,128","f":0.03722,"c":0.021},{"s":"unaligned - Q = 0,128","f":0.03884,"c":0.002},
{"s":"ali 00 - Q = 0,172","f":0.0032,"c":0.846},{"s":"ali 00 - Q = 0,172","f":0.00482,"c":0.571},{"s":"ali 00 - Q = 0,172","f":0.00644,"c":0.73},{"s":"ali 00 - Q = 0,172","f":0.00806,"c":0.769},{"s":"ali 00 - Q = 0,172","f":0.00968,"c":0.795},{"s":"ali 00 - Q = 0,172","f":0.0113,"c":0.781},{"s":"ali 00 - Q = 0,172","f":0.01292,"c":0.744},{"s":"ali 00 - Q = 0,172","f":0.01454,"c":0.689},{"s":"ali 00 - Q = 0,172","f":0.01616,"c":0.624},{"s":"ali 00 - Q = 0,172","f":0.01778,"c":0.596},{"s":"ali 00 - Q = 0,172","f":0.0194,"c":0.498},{"s":"ali 00 - Q = 0,172","f":0.02102,"c":0.429},{"s":"ali 00 - Q = 0,172","f":0.02264,"c":0.401},{"s":"ali 00 - Q = 0,172","f":0.02426,"c":0.331},{"s":"ali 00 - Q = 0,172","f":0.02588,"c":0.243},{"s":"ali 00 - Q = 0,172","f":0.0275,"c":0.206},{"s":"ali 00 - Q = 0,172","f":0.02912,"c":0.118},{"s":"ali 00 - Q = 0,172","f":0.03074,"c":0.1},{"s":"ali 00 - Q = 0,172","f":0.03236,"c":0.086},{"s":"ali 00 - Q = 0,172","f":0.03398,"c":0.051},{"s":"ali 00 - Q = 0,172","f":0.0356,"c":0.048},{"s":"ali 00 - Q = 0,172","f":0.03722,"c":0.025},{"s":"ali 00 - Q = 0,172","f":0.03884,"c":0.023},
{"s":"ali 01 - Q = 0,180","f":0.0032,"c":0.865},{"s":"ali 01 - Q = 0,180","f":0.00482,"c":0.647},{"s":"ali 01 - Q = 0,180","f":0.00644,"c":0.772},{"s":"ali 01 - Q = 0,180","f":0.00806,"c":0.803},{"s":"ali 01 - Q = 0,180","f":0.00968,"c":0.8},{"s":"ali 01 - Q = 0,180","f":0.0113,"c":0.777},{"s":"ali 01 - Q = 0,180","f":0.01292,"c":0.749},{"s":"ali 01 - Q = 0,180","f":0.01454,"c":0.698},{"s":"ali 01 - Q = 0,180","f":0.01616,"c":0.67},{"s":"ali 01 - Q = 0,180","f":0.01778,"c":0.591},{"s":"ali 01 - Q = 0,180","f":0.0194,"c":0.536},{"s":"ali 01 - Q = 0,180","f":0.02102,"c":0.48},{"s":"ali 01 - Q = 0,180","f":0.02264,"c":0.429},{"s":"ali 01 - Q = 0,180","f":0.02426,"c":0.35},{"s":"ali 01 - Q = 0,180","f":0.02588,"c":0.285},{"s":"ali 01 - Q = 0,180","f":0.0275,"c":0.229},{"s":"ali 01 - Q = 0,180","f":0.02912,"c":0.155},{"s":"ali 01 - Q = 0,180","f":0.03074,"c":0.095},{"s":"ali 01 - Q = 0,180","f":0.03236,"c":0.076},{"s":"ali 01 - Q = 0,180","f":0.03398,"c":0.053},{"s":"ali 01 - Q = 0,180","f":0.0356,"c":0.043},{"s":"ali 01 - Q = 0,180","f":0.03722,"c":0.03},{"s":"ali 01 - Q = 0,180","f":0.03884,"c":0.016},
{"s":"ali 02 - Q = 0,181","f":0.0032,"c":0.86},{"s":"ali 02 - Q = 0,181","f":0.00482,"c":0.61},{"s":"ali 02 - Q = 0,181","f":0.00644,"c":0.749},{"s":"ali 02 - Q = 0,181","f":0.00806,"c":0.781},{"s":"ali 02 - Q = 0,181","f":0.00968,"c":0.791},{"s":"ali 02 - Q = 0,181","f":0.0113,"c":0.768},{"s":"ali 02 - Q = 0,181","f":0.01292,"c":0.744},{"s":"ali 02 - Q = 0,181","f":0.01454,"c":0.698},{"s":"ali 02 - Q = 0,181","f":0.01616,"c":0.665},{"s":"ali 02 - Q = 0,181","f":0.01778,"c":0.591},{"s":"ali 02 - Q = 0,181","f":0.0194,"c":0.549},{"s":"ali 02 - Q = 0,181","f":0.02102,"c":0.484},{"s":"ali 02 - Q = 0,181","f":0.02264,"c":0.424},{"s":"ali 02 - Q = 0,181","f":0.02426,"c":0.359},{"s":"ali 02 - Q = 0,181","f":0.02588,"c":0.285},{"s":"ali 02 - Q = 0,181","f":0.0275,"c":0.239},{"s":"ali 02 - Q = 0,181","f":0.02912,"c":0.163},{"s":"ali 02 - Q = 0,181","f":0.03074,"c":0.107},{"s":"ali 02 - Q = 0,181","f":0.03236,"c":0.086},{"s":"ali 02 - Q = 0,181","f":0.03398,"c":0.058},{"s":"ali 02 - Q = 0,181","f":0.0356,"c":0.044},{"s":"ali 02 - Q = 0,181","f":0.03722,"c":0.034},{"s":"ali 02 - Q = 0,181","f":0.03884,"c":0.034},
{"s":"ali 03 - Q = 0,180","f":0.0032,"c":0.871},{"s":"ali 03 - Q = 0,180","f":0.00482,"c":0.628},{"s":"ali 03 - Q = 0,180","f":0.00644,"c":0.775},{"s":"ali 03 - Q = 0,180","f":0.00806,"c":0.807},{"s":"ali 03 - Q = 0,180","f":0.00968,"c":0.797},{"s":"ali 03 - Q = 0,180","f":0.0113,"c":0.777},{"s":"ali 03 - Q = 0,180","f":0.01292,"c":0.744},{"s":"ali 03 - Q = 0,180","f":0.01454,"c":0.698},{"s":"ali 03 - Q = 0,180","f":0.01616,"c":0.661},{"s":"ali 03 - Q = 0,180","f":0.01778,"c":0.591},{"s":"ali 03 - Q = 0,180","f":0.0194,"c":0.54},{"s":"ali 03 - Q = 0,180","f":0.02102,"c":0.489},{"s":"ali 03 - Q = 0,180","f":0.02264,"c":0.438},{"s":"ali 03 - Q = 0,180","f":0.02426,"c":0.368},{"s":"ali 03 - Q = 0,180","f":0.02588,"c":0.294},{"s":"ali 03 - Q = 0,180","f":0.0275,"c":0.239},{"s":"ali 03 - Q = 0,180","f":0.02912,"c":0.16},{"s":"ali 03 - Q = 0,180","f":0.03074,"c":0.095},{"s":"ali 03 - Q = 0,180","f":0.03236,"c":0.07},{"s":"ali 03 - Q = 0,180","f":0.03398,"c":0.046},{"s":"ali 03 - Q = 0,180","f":0.0356,"c":0.044},{"s":"ali 03 - Q = 0,180","f":0.03722,"c":0.03},{"s":"ali 03 - Q = 0,180","f":0.03884,"c":0.02},
{"s":"ali 04 - Q = 0,180","f":0.0032,"c":0.899},{"s":"ali 04 - Q = 0,180","f":0.00482,"c":0.661},{"s":"ali 04 - Q = 0,180","f":0.00644,"c":0.769},{"s":"ali 04 - Q = 0,180","f":0.00806,"c":0.793},{"s":"ali 04 - Q = 0,180","f":0.00968,"c":0.807},{"s":"ali 04 - Q = 0,180","f":0.0113,"c":0.777},{"s":"ali 04 - Q = 0,180","f":0.01292,"c":0.744},{"s":"ali 04 - Q = 0,180","f":0.01454,"c":0.698},{"s":"ali 04 - Q = 0,180","f":0.01616,"c":0.652},{"s":"ali 04 - Q = 0,180","f":0.01778,"c":0.591},{"s":"ali 04 - Q = 0,180","f":0.0194,"c":0.526},{"s":"ali 04 - Q = 0,180","f":0.02102,"c":0.475},{"s":"ali 04 - Q = 0,180","f":0.02264,"c":0.433},{"s":"ali 04 - Q = 0,180","f":0.02426,"c":0.348},{"s":"ali 04 - Q = 0,180","f":0.02588,"c":0.285},{"s":"ali 04 - Q = 0,180","f":0.0275,"c":0.23},{"s":"ali 04 - Q = 0,180","f":0.02912,"c":0.155},{"s":"ali 04 - Q = 0,180","f":0.03074,"c":0.104},{"s":"ali 04 - Q = 0,180","f":0.03236,"c":0.104},{"s":"ali 04 - Q = 0,180","f":0.03398,"c":0.073},{"s":"ali 04 - Q = 0,180","f":0.0356,"c":0.039},{"s":"ali 04 - Q = 0,180","f":0.03722,"c":0.025},{"s":"ali 04 - Q = 0,180","f":0.03884,"c":0.011},
{"s":"ali 05 - Q = 0,184","f":0.0032,"c":0.888},{"s":"ali 05 - Q = 0,184","f":0.00482,"c":0.714},{"s":"ali 05 - Q = 0,184","f":0.00644,"c":0.8},{"s":"ali 05 - Q = 0,184","f":0.00806,"c":0.816},{"s":"ali 05 - Q = 0,184","f":0.00968,"c":0.821},{"s":"ali 05 - Q = 0,184","f":0.0113,"c":0.777},{"s":"ali 05 - Q = 0,184","f":0.01292,"c":0.742},{"s":"ali 05 - Q = 0,184","f":0.01454,"c":0.709},{"s":"ali 05 - Q = 0,184","f":0.01616,"c":0.673},{"s":"ali 05 - Q = 0,184","f":0.01778,"c":0.596},{"s":"ali 05 - Q = 0,184","f":0.0194,"c":0.503},{"s":"ali 05 - Q = 0,184","f":0.02102,"c":0.466},{"s":"ali 05 - Q = 0,184","f":0.02264,"c":0.415},{"s":"ali 05 - Q = 0,184","f":0.02426,"c":0.345},{"s":"ali 05 - Q = 0,184","f":0.02588,"c":0.29},{"s":"ali 05 - Q = 0,184","f":0.0275,"c":0.243},{"s":"ali 05 - Q = 0,184","f":0.02912,"c":0.169},{"s":"ali 05 - Q = 0,184","f":0.03074,"c":0.116},{"s":"ali 05 - Q = 0,184","f":0.03236,"c":0.081},{"s":"ali 05 - Q = 0,184","f":0.03398,"c":0.062},{"s":"ali 05 - Q = 0,184","f":0.0356,"c":0.044},{"s":"ali 05 - Q = 0,184","f":0.03722,"c":0.041},{"s":"ali 05 - Q = 0,184","f":0.03884,"c":0.025},
{"s":"ali 06 - Q = 0,180","f":0.0032,"c":0.897},{"s":"ali 06 - Q = 0,180","f":0.00482,"c":0.719},{"s":"ali 06 - Q = 0,180","f":0.00644,"c":0.791},{"s":"ali 06 - Q = 0,180","f":0.00806,"c":0.819},{"s":"ali 06 - Q = 0,180","f":0.00968,"c":0.826},{"s":"ali 06 - Q = 0,180","f":0.0113,"c":0.777},{"s":"ali 06 - Q = 0,180","f":0.01292,"c":0.726},{"s":"ali 06 - Q = 0,180","f":0.01454,"c":0.693},{"s":"ali 06 - Q = 0,180","f":0.01616,"c":0.656},{"s":"ali 06 - Q = 0,180","f":0.01778,"c":0.587},{"s":"ali 06 - Q = 0,180","f":0.0194,"c":0.512},{"s":"ali 06 - Q = 0,180","f":0.02102,"c":0.457},{"s":"ali 06 - Q = 0,180","f":0.02264,"c":0.387},{"s":"ali 06 - Q = 0,180","f":0.02426,"c":0.336},{"s":"ali 06 - Q = 0,180","f":0.02588,"c":0.266},{"s":"ali 06 - Q = 0,180","f":0.0275,"c":0.225},{"s":"ali 06 - Q = 0,180","f":0.02912,"c":0.146},{"s":"ali 06 - Q = 0,180","f":0.03074,"c":0.109},{"s":"ali 06 - Q = 0,180","f":0.03236,"c":0.083},{"s":"ali 06 - Q = 0,180","f":0.03398,"c":0.058},{"s":"ali 06 - Q = 0,180","f":0.0356,"c":0.048},{"s":"ali 06 - Q = 0,180","f":0.03722,"c":0.034},{"s":"ali 06 - Q = 0,180","f":0.03884,"c":0.018}
]
},
"concat": [
{
  "width": 520, "height": 358.6,
  "title": {"text": "unmodified", "dx": 2, "dy": 60.7},
  "layer": [
    {"data": {"name": "d1"}, "mark": {"type": "line", "strokeWidth": 2},
     "encoding": {
       "x": {"field": "f", "type": "quantitative", "title": "Frequency / Å⁻¹", "scale": {"domain": [0, 0.04], "nice": false}, "axis": {"values": [0, 0.005, 0.01, 0.015, 0.02, 0.025, 0.03, 0.035, 0.04], "format": ".3f"}},
       "y": {"field": "c", "type": "quantitative", "title": "Correlation", "scale": {"domain": [0, 1]}, "axis": {"values": [0, 0.2, 0.4, 0.6, 0.8, 1], "format": ".1~f"}},
       "color": {"field": "s", "type": "nominal", "scale": {"domain": ["unaligned - Q = 0,126", "ali 00 - Q = 0,164", "ali 01 - Q = 0,178", "ali 02 - Q = 0,179", "ali 03 - Q = 0,181", "ali 04 - Q = 0,184", "ali 05 - Q = 0,185", "ali 06 - Q = 0,185"], "range": ["#4A7EBB", "#BE4B48", "#98B954", "#7D60A0", "#46AAC5", "#F69240", "#D40000", "#E0A0A0"]}, "legend": {"title": null, "legendX": 362.3}}
     }},
    {"data": {"values": [{}]}, "mark": {"type": "rule", "color": "#000000", "strokeWidth": 2},
     "encoding": {
       "x": {"datum": 0.042715, "type": "quantitative", "title": "Frequency / Å⁻¹"},
       "y": {"datum": 1.0407, "type": "quantitative", "title": "Correlation"},
       "y2": {"datum": -1.4244}
     }},
    {"data": {"values": [{}]}, "mark": {"type": "rule", "color": "#000000", "strokeWidth": 2},
     "encoding": {
       "x": {"datum": -0.004746, "type": "quantitative", "title": "Frequency / Å⁻¹"},
       "x2": {"datum": 0.088715},
       "y": {"datum": -0.19465, "type": "quantitative", "title": "Correlation"}
     }}
  ]
},
{
  "width": 520, "height": 358.6,
  "title": {"text": "Ta₆Br₁₄", "dx": -18, "dy": 49.5},
  "data": {"name": "d2"},
  "mark": {"type": "line", "strokeWidth": 2},
  "encoding": {
    "x": {"field": "f", "type": "quantitative", "title": "Frequency / Å⁻¹", "scale": {"domain": [0, 0.04], "nice": false}, "axis": {"values": [0, 0.005, 0.01, 0.015, 0.02, 0.025, 0.03, 0.035, 0.04], "format": ".3f"}},
    "y": {"field": "c", "type": "quantitative", "title": "Correlation", "scale": {"domain": [0, 1]}, "axis": {"values": [0, 0.2, 0.4, 0.6, 0.8, 1], "format": ".1~f"}},
    "color": {"field": "s", "type": "nominal", "scale": {"domain": ["unaligned - Q = 0,120", "ali 00 - Q = 0,167", "ali 01 - Q = 0,174", "ali 02 - Q = 0,177", "ali 03 - Q = 0,180", "ali 04 - Q = 0,180", "ali 05 - Q = 0,180", "ali 06 - Q = 0,180"], "range": ["#4A7EBB", "#BE4B48", "#98B954", "#7D60A0", "#46AAC5", "#F69240", "#D40000", "#E0A0A0"]}, "legend": {"title": null, "legendX": 364.7}}
  }
},
{
  "width": 520, "height": 358.6,
  "title": {"text": "K₂[PtCl₆]", "dx": -9, "dy": 51.2},
  "data": {"name": "d3"},
  "mark": {"type": "line", "strokeWidth": 2},
  "encoding": {
    "x": {"field": "f", "type": "quantitative", "title": "Frequency / Å⁻¹", "scale": {"domain": [0, 0.04], "nice": false}, "axis": {"values": [0, 0.005, 0.01, 0.015, 0.02, 0.025, 0.03, 0.035, 0.04], "format": ".3f"}},
    "y": {"field": "c", "type": "quantitative", "title": "Correlation", "scale": {"domain": [0, 1]}, "axis": {"values": [0, 0.2, 0.4, 0.6, 0.8, 1], "format": ".1~f"}},
    "color": {"field": "s", "type": "nominal", "scale": {"domain": ["unaligned - Q = 0,137", "ali 00 - Q = 0,167", "ali 01 - Q = 0,175", "ali 02 - Q = 0,175", "ali 03 - Q = 0,178", "ali 04 - Q = 0,177", "ali 05 - Q = 0,178", "ali 06 - Q = 0,176"], "range": ["#4A7EBB", "#BE4B48", "#98B954", "#7D60A0", "#46AAC5", "#F69240", "#D40000", "#E0A0A0"]}, "legend": {"title": null, "legendX": 362.3}}
  }
},
{
  "width": 520, "height": 358.6,
  "title": {"text": "Na₂SO₄", "dx": -19, "dy": 50.5},
  "data": {"name": "d4"},
  "mark": {"type": "line", "strokeWidth": 2},
  "encoding": {
    "x": {"field": "f", "type": "quantitative", "title": "Frequency / Å⁻¹", "scale": {"domain": [0, 0.04], "nice": false}, "axis": {"values": [0, 0.005, 0.01, 0.015, 0.02, 0.025, 0.03, 0.035, 0.04], "format": ".3f"}},
    "y": {"field": "c", "type": "quantitative", "title": "Correlation", "scale": {"domain": [0, 1]}, "axis": {"values": [0, 0.2, 0.4, 0.6, 0.8, 1], "format": ".1~f"}},
    "color": {"field": "s", "type": "nominal", "scale": {"domain": ["unaligned - Q = 0,128", "ali 00 - Q = 0,172", "ali 01 - Q = 0,180", "ali 02 - Q = 0,181", "ali 03 - Q = 0,180", "ali 04 - Q = 0,180", "ali 05 - Q = 0,184", "ali 06 - Q = 0,180"], "range": ["#4A7EBB", "#BE4B48", "#98B954", "#7D60A0", "#46AAC5", "#F69240", "#D40000", "#E0A0A0"]}, "legend": {"title": null, "legendX": 364.7}}
  }
}
]
}
